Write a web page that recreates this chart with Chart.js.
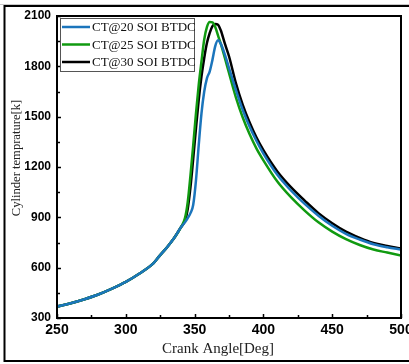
<!DOCTYPE html>
<html><head><meta charset="utf-8">
<script src="https://cdn.jsdelivr.net/npm/chart.js@4/dist/chart.umd.min.js"></script>
<style>html,body{margin:0;padding:0;background:#fff}#wrap{width:409px;height:364px;position:relative}</style>
</head><body><div id="wrap"><canvas id="c" width="409" height="364"></canvas></div>
<script>
const angles = [250,260,270,280,290,300,310,320,325,330,335,340,343,345,347,349,351,353,355,357,359,361,363,365,367,369,372,375,380,385,390,395,400,410,420,430,440,450,460,470,480,490,500];
const ct20 = [368,388,412,440,475,515,565,625,675,722,775,840,870,895,925,975,1120,1330,1520,1650,1730,1770,1840,1920,1955,1935,1870,1790,1660,1540,1440,1355,1280,1155,1060,980,910,850,802,768,740,722,708];
const ct25 = [368,388,412,440,475,515,565,625,675,722,775,840,895,990,1150,1330,1520,1690,1830,1960,2035,2064,2062,2035,1985,1935,1850,1760,1615,1495,1395,1310,1240,1115,1020,940,870,815,770,735,708,690,672];
const ct30 = [368,388,412,440,475,515,565,625,675,722,775,840,880,950,1080,1250,1430,1600,1740,1850,1940,2000,2040,2052,2048,2015,1935,1860,1700,1570,1465,1375,1300,1175,1080,1000,925,865,815,778,748,730,714];
const seriesLabels = ['CT@20 SOI BTDC','CT@25 SOI BTDC','CT@30 SOI BTDC'];
const seriesColors = ['#1b75bc','#109a10','#000000'];
const xTicks = [250,300,350,400,450,500];
const yTicks = [300,600,900,1200,1500,1800,2100];
const xTitle = 'Crank Angle[Deg]';
const yTitle = 'Cylinder temprature[k]';

const pts = arr => angles.map((a,i)=>({x:a,y:arr[i]}));
const allSeries = [ct20, ct25, ct30];

const decor = {
  id:'decor',
  beforeDraw(chart){
    const c = chart.ctx;
    c.save();
    c.fillStyle='#fff'; c.fillRect(0,0,chart.width,chart.height);
    c.strokeStyle='#c8c8c8'; c.lineWidth=1;
    c.beginPath(); c.moveTo(0,4.5); c.lineTo(409,4.5); c.stroke();
    c.strokeStyle='#000'; c.lineWidth=2;
    c.beginPath(); c.moveTo(412,6); c.lineTo(4.5,6); c.lineTo(4.5,361); c.lineTo(412,361); c.stroke();
    c.restore();
  },
  afterDraw(chart){
    const c = chart.ctx, a = chart.chartArea;
    const xs = chart.scales.x, ys = chart.scales.y;
    c.save();
    c.strokeStyle='#000'; c.lineWidth=2;
    c.strokeRect(a.left, a.top, a.right-a.left, a.bottom-a.top);
    c.lineWidth=1.5;
    c.beginPath();
    for(let v=xs.min; v<=xs.max; v+=25){
      const px = Math.round(xs.getPixelForValue(v))+0.5;
      const len = (v%50===0)?4:3;
      c.moveTo(px,a.bottom); c.lineTo(px,a.bottom-len);
    }
    for(let v=ys.min; v<=ys.max; v+=150){
      const py = Math.round(ys.getPixelForValue(v))+0.5;
      const len = (v%300===0)?4:3;
      c.moveTo(a.left,py); c.lineTo(a.left+len,py);
    }
    c.stroke();
    c.fillStyle='#222';
    c.textAlign='center'; c.textBaseline='middle';
    c.font='15px "Liberation Serif"';
    c.fillText(xTitle, 218, 349);
    c.save();
    c.translate(17, 158); c.rotate(-Math.PI/2);
    c.font='12.6px "Liberation Serif"';
    c.fillText(yTitle, 0, 0);
    c.restore();
    c.textAlign='left';
    const lx=60, ly=18, lw=134, lh=53;
    c.fillStyle='#fff'; c.fillRect(lx,ly,lw,lh);
    c.strokeStyle='#555'; c.lineWidth=1;
    c.strokeRect(lx+0.5,ly+0.5,lw,lh);
    c.font='13px "Liberation Serif"';
    chart.data.datasets.forEach((ds,i)=>{
      const y = ly+9+i*17.5;
      c.strokeStyle=ds.borderColor; c.lineWidth=2.5;
      c.beginPath(); c.moveTo(lx+2,y); c.lineTo(lx+30,y); c.stroke();
      c.fillStyle='#111'; c.fillText(ds.label, lx+32, y+1);
    });
    c.restore();
  }
};

new Chart(document.getElementById('c'), {
  type:'line',
  data:{datasets: allSeries.map((s,i)=>({label:seriesLabels[i], data:pts(s), borderColor:seriesColors[i], backgroundColor:seriesColors[i], borderWidth:2.5, pointRadius:0, cubicInterpolationMode:'monotone', fill:false}))},
  options:{
    responsive:false, animation:false, devicePixelRatio:1,
    layout:{padding:{left:0,top:16,right:8,bottom:0}},
    plugins:{legend:{display:false}, tooltip:{enabled:false}},
    scales:{
      x:{type:'linear', min:250, max:500,
        afterBuildTicks(s){ s.ticks = xTicks.map(v=>({value:v})); },
        afterFit(s){ s.height = 46; s.paddingLeft = 0; s.paddingRight = 0; },
        grid:{display:true, drawOnChartArea:false, drawTicks:false},
        border:{display:false},
        ticks:{color:'#000', font:{family:'"Liberation Sans"', size:14, weight:'bold'}, padding:4, maxRotation:0, autoSkip:false, callback:v=>String(v)},
        title:{display:false}
      },
      y:{type:'linear', min:300, max:2100,
        afterBuildTicks(s){ s.ticks = yTicks.map(v=>({value:v})); },
        afterFit(s){ s.width = 57; s.paddingTop = 0; s.paddingBottom = 0; },
        grid:{display:true, drawOnChartArea:false, drawTicks:false},
        border:{display:false},
        ticks:{color:'#000', font:{family:'"Liberation Sans"', size:12, weight:'bold'}, padding:6, autoSkip:false, callback:v=>String(v)},
        title:{display:false}
      }
    }
  },
  plugins:[decor]
});
</script></body></html>
